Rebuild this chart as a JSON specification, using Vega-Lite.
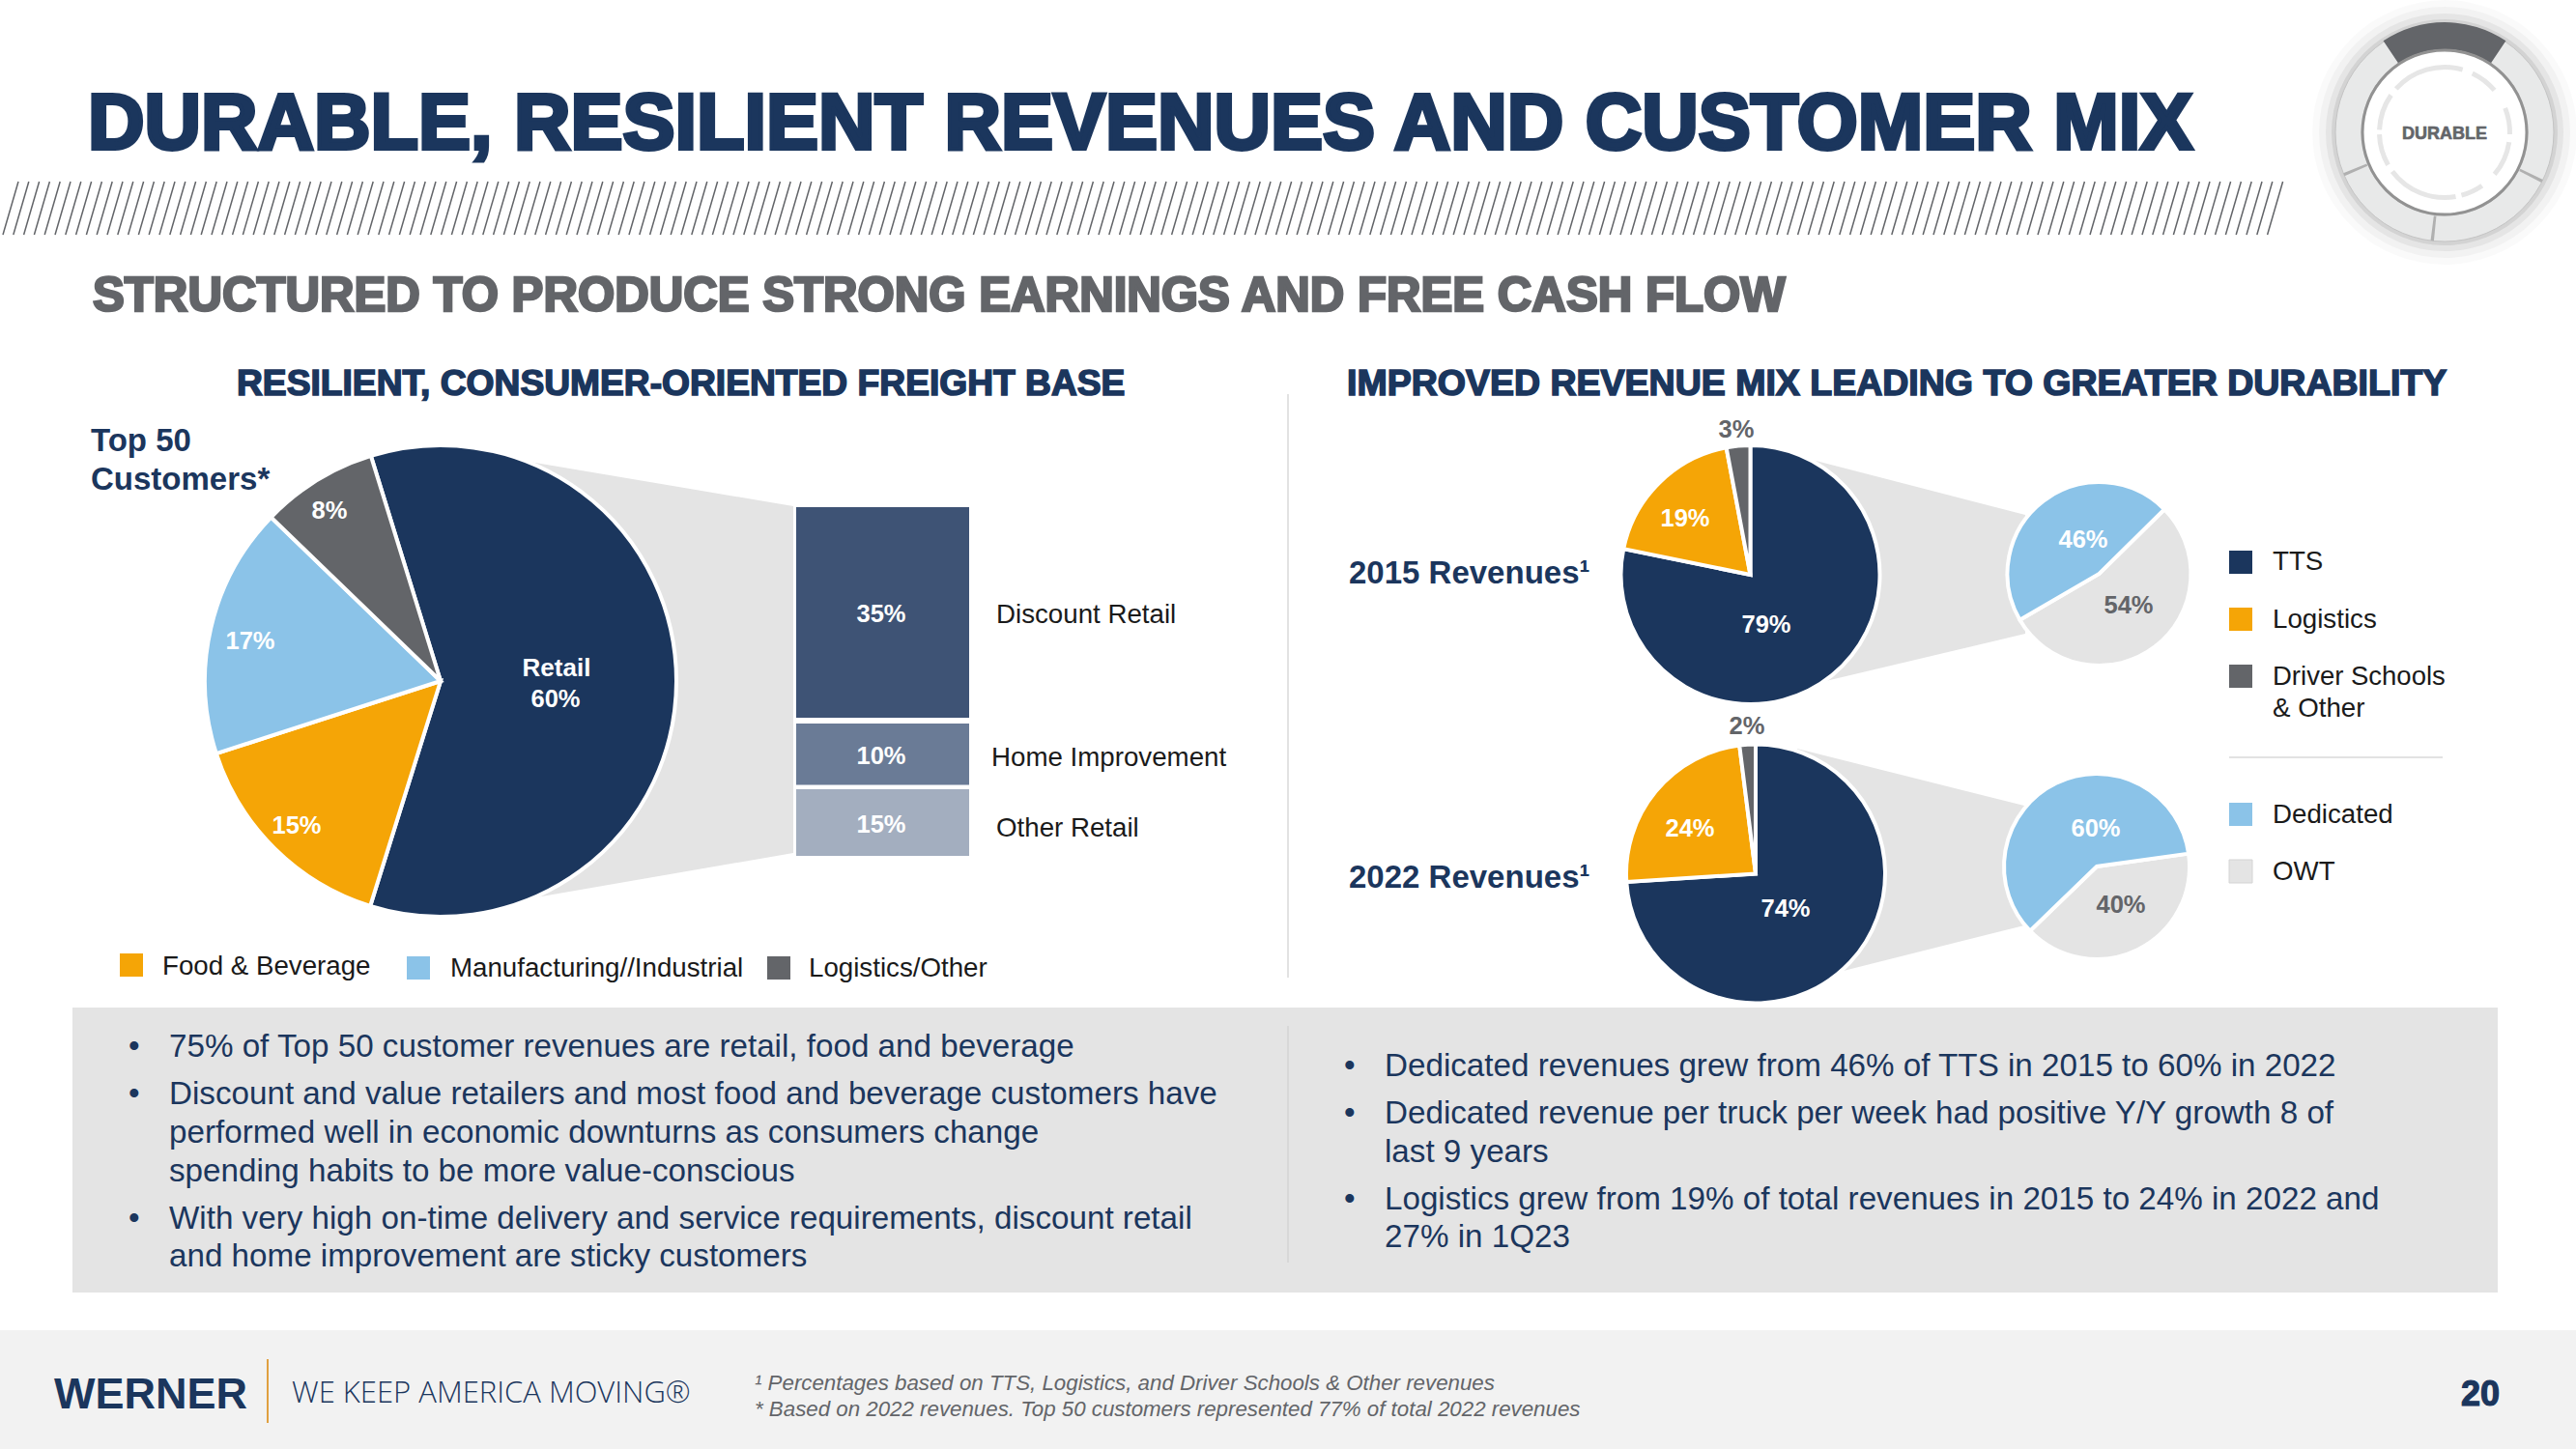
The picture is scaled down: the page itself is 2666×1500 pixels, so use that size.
{
"$schema":"https://vega.github.io/schema/vega-lite/v6.json",
"width":2666,"height":1500,"padding":0,"autosize":{"type":"none"},"background":"white",
"config":{"view":{"stroke":null},
"text":{"font":"Liberation Sans","baseline":"alphabetic","align":"left","color":"#1b365d"},
"style":{
"title":{"fontWeight":"bold","color":"#1b365d","stroke":"#1b365d","strokeWidth":4},
"sub":{"fontWeight":"bold","color":"#636569","stroke":"#636569","strokeWidth":2.5},
"sec":{"fontWeight":"bold","color":"#1b365d","stroke":"#1b365d","strokeWidth":1.6},
"pw":{"fontWeight":"bold","align":"center","color":"white"},
"pg":{"fontWeight":"bold","align":"center","color":"#636569"},
"lab":{"color":"#1a1a1a"},
"rev":{"fontWeight":"bold","color":"#1b365d"},
"body":{"color":"#1b365d"},
"foot":{"fontStyle":"italic","color":"#636569"}
}},
"datasets":{"one":[{"k":1}]},
"data":{"name":"one"},
"resolve":{"scale":{"theta":"independent"}},
"layer":[
{"mark":{"type":"rect","color":"#f2f2f2"},"encoding":{"x":{"value":0},"x2":{"value":2666},"y":{"value":1377},"y2":{"value":1500}}},
{"mark":{"type":"rect","color":"#e4e4e4"},"encoding":{"x":{"value":75},"x2":{"value":2585},"y":{"value":1043},"y2":{"value":1338}}},
{"mark":{"type":"rule","color":"#e2e2e2","strokeWidth":2},"encoding":{"x":{"value":1333},"y":{"value":408},"y2":{"value":1012}}},
{"mark":{"type":"rule","color":"#d8d8d8","strokeWidth":2},"encoding":{"x":{"value":1333},"y":{"value":1062},"y2":{"value":1307}}},
{"mark":{"type":"point","x":0,"y":0,"size":4,"filled":false,"opacity":1,"stroke":"#636569","strokeWidth":1.5,"shape":"M3 243l16-55m-5.2 55l16-55m-5.2 55l16-55m-5.2 55l16-55m-5.2 55l16-55m-5.2 55l16-55m-5.2 55l16-55m-5.2 55l16-55m-5.2 55l16-55m-5.2 55l16-55m-5.2 55l16-55m-5.2 55l16-55m-5.2 55l16-55m-5.2 55l16-55m-5.2 55l16-55m-5.2 55l16-55m-5.2 55l16-55m-5.2 55l16-55m-5.2 55l16-55m-5.2 55l16-55m-5.2 55l16-55m-5.2 55l16-55m-5.2 55l16-55m-5.2 55l16-55m-5.2 55l16-55m-5.2 55l16-55m-5.2 55l16-55m-5.2 55l16-55m-5.2 55l16-55m-5.2 55l16-55m-5.2 55l16-55m-5.2 55l16-55m-5.2 55l16-55m-5.2 55l16-55m-5.2 55l16-55m-5.2 55l16-55m-5.2 55l16-55m-5.2 55l16-55m-5.2 55l16-55m-5.2 55l16-55m-5.2 55l16-55m-5.2 55l16-55m-5.2 55l16-55m-5.2 55l16-55m-5.2 55l16-55m-5.2 55l16-55m-5.2 55l16-55m-5.2 55l16-55m-5.2 55l16-55m-5.2 55l16-55m-5.2 55l16-55m-5.2 55l16-55m-5.2 55l16-55m-5.2 55l16-55m-5.2 55l16-55m-5.2 55l16-55m-5.2 55l16-55m-5.2 55l16-55m-5.2 55l16-55m-5.2 55l16-55m-5.2 55l16-55m-5.2 55l16-55m-5.2 55l16-55m-5.2 55l16-55m-5.2 55l16-55m-5.2 55l16-55m-5.2 55l16-55m-5.2 55l16-55m-5.2 55l16-55m-5.2 55l16-55m-5.2 55l16-55m-5.2 55l16-55m-5.2 55l16-55m-5.2 55l16-55m-5.2 55l16-55m-5.2 55l16-55m-5.2 55l16-55m-5.2 55l16-55m-5.2 55l16-55m-5.2 55l16-55m-5.2 55l16-55m-5.2 55l16-55m-5.2 55l16-55m-5.2 55l16-55m-5.2 55l16-55m-5.2 55l16-55m-5.2 55l16-55m-5.2 55l16-55m-5.2 55l16-55m-5.2 55l16-55m-5.2 55l16-55m-5.2 55l16-55m-5.2 55l16-55m-5.2 55l16-55m-5.2 55l16-55m-5.2 55l16-55m-5.2 55l16-55m-5.2 55l16-55m-5.2 55l16-55m-5.2 55l16-55m-5.2 55l16-55m-5.2 55l16-55m-5.2 55l16-55m-5.2 55l16-55m-5.2 55l16-55m-5.2 55l16-55m-5.2 55l16-55m-5.2 55l16-55m-5.2 55l16-55m-5.2 55l16-55m-5.2 55l16-55m-5.2 55l16-55m-5.2 55l16-55m-5.2 55l16-55m-5.2 55l16-55m-5.2 55l16-55m-5.2 55l16-55m-5.2 55l16-55m-5.2 55l16-55m-5.2 55l16-55m-5.2 55l16-55m-5.2 55l16-55m-5.2 55l16-55m-5.2 55l16-55m-5.2 55l16-55m-5.2 55l16-55m-5.2 55l16-55m-5.2 55l16-55m-5.2 55l16-55m-5.2 55l16-55m-5.2 55l16-55m-5.2 55l16-55m-5.2 55l16-55m-5.2 55l16-55m-5.2 55l16-55m-5.2 55l16-55m-5.2 55l16-55m-5.2 55l16-55m-5.2 55l16-55m-5.2 55l16-55m-5.2 55l16-55m-5.2 55l16-55m-5.2 55l16-55m-5.2 55l16-55m-5.2 55l16-55m-5.2 55l16-55m-5.2 55l16-55m-5.2 55l16-55m-5.2 55l16-55m-5.2 55l16-55m-5.2 55l16-55m-5.2 55l16-55m-5.2 55l16-55m-5.2 55l16-55m-5.2 55l16-55m-5.2 55l16-55m-5.2 55l16-55m-5.2 55l16-55m-5.2 55l16-55m-5.2 55l16-55m-5.2 55l16-55m-5.2 55l16-55m-5.2 55l16-55m-5.2 55l16-55m-5.2 55l16-55m-5.2 55l16-55m-5.2 55l16-55m-5.2 55l16-55m-5.2 55l16-55m-5.2 55l16-55m-5.2 55l16-55m-5.2 55l16-55m-5.2 55l16-55m-5.2 55l16-55m-5.2 55l16-55m-5.2 55l16-55m-5.2 55l16-55m-5.2 55l16-55m-5.2 55l16-55m-5.2 55l16-55m-5.2 55l16-55m-5.2 55l16-55m-5.2 55l16-55m-5.2 55l16-55m-5.2 55l16-55m-5.2 55l16-55m-5.2 55l16-55m-5.2 55l16-55m-5.2 55l16-55m-5.2 55l16-55m-5.2 55l16-55m-5.2 55l16-55m-5.2 55l16-55m-5.2 55l16-55m-5.2 55l16-55m-5.2 55l16-55m-5.2 55l16-55m-5.2 55l16-55m-5.2 55l16-55m-5.2 55l16-55m-5.2 55l16-55m-5.2 55l16-55m-5.2 55l16-55m-5.2 55l16-55m-5.2 55l16-55m-5.2 55l16-55m-5.2 55l16-55m-5.2 55l16-55m-5.2 55l16-55m-5.2 55l16-55m-5.2 55l16-55m-5.2 55l16-55m-5.2 55l16-55m-5.2 55l16-55m-5.2 55l16-55m-5.2 55l16-55m-5.2 55l16-55m-5.2 55l16-55m-5.2 55l16-55m-5.2 55l16-55m-5.2 55l16-55m-5.2 55l16-55m-5.2 55l16-55m-5.2 55l16-55m-5.2 55l16-55m-5.2 55l16-55m-5.2 55l16-55m-5.2 55l16-55m-5.2 55l16-55m-5.2 55l16-55m-5.2 55l16-55m-5.2 55l16-55m-5.2 55l16-55m-5.2 55l16-55m-5.2 55l16-55m-5.2 55l16-55m-5.2 55l16-55m-5.2 55l16-55m-5.2 55l16-55m-5.2 55l16-55m-5.2 55l16-55m-5.2 55l16-55m-5.2 55l16-55m-5.2 55l16-55m-5.2 55l16-55m-5.2 55l16-55m-5.2 55l16-55m-5.2 55l16-55m-5.2 55l16-55m-5.2 55l16-55m-5.2 55l16-55m-5.2 55l16-55m-5.2 55l16-55m-5.2 55l16-55m-5.2 55l16-55m-5.2 55l16-55m-5.2 55l16-55m-5.2 55l16-55m-5.2 55l16-55m-5.2 55"},"encoding":{}},
{"mark":{"type":"point","x":0,"y":0,"size":4,"filled":true,"opacity":1,"color":"white","shape":"M2352 246L2368 185L2666 185L2666 246Z"},"encoding":{}},
{"mark":{"type":"point","x":0,"y":0,"size":4,"filled":true,"opacity":1,"color":"#e4e4e4","shape":"M500 470L821 524L821 883L520 935Z"},"encoding":{}},
{"mark":{"type":"point","x":0,"y":0,"size":4,"filled":true,"opacity":1,"color":"#e4e4e4","shape":"M1860 472L2096 533L2096 656L1860 712Z"},"encoding":{}},
{"mark":{"type":"point","x":0,"y":0,"size":4,"filled":true,"opacity":1,"color":"#e4e4e4","shape":"M1860 775L2095 834L2095 958L1880 1012Z"},"encoding":{}},
{"data":{"values":[{"c":"Retail","v":59.6,"o":1},{"c":"Food & Beverage","v":15.2,"o":2},{"c":"Manufacturing//Industrial","v":17.2,"o":3},{"c":"Logistics/Other","v":8,"o":4}]},
"mark":{"type":"arc","outerRadius":244,"stroke":"white","strokeWidth":4},
"encoding":{"x":{"value":456},"y":{"value":705},"theta":{"field":"v","type":"quantitative","stack":true,"scale":{"domain":[0,100],"range":[-0.3,5.983]}},"order":{"field":"o"},
"color":{"field":"c","type":"nominal","legend":null,"scale":{"domain":["Retail","Food & Beverage","Manufacturing//Industrial","Logistics/Other","TTS","Logistics","Driver Schools & Other","Dedicated","OWT"],"range":["#1b365d","#f5a506","#8bc3e8","#636569","#1b365d","#f5a506","#636569","#8bc3e8","#e4e4e4"]}}}},
{"data":{"values":[{"c":"TTS","v":79,"o":1},{"c":"Logistics","v":19,"o":2},{"c":"Driver Schools & Other","v":3,"o":3}]},
"mark":{"type":"arc","outerRadius":134,"stroke":"white","strokeWidth":4},
"encoding":{"x":{"value":1811.5},"y":{"value":595},"theta":{"field":"v","type":"quantitative","stack":true,"scale":{"domain":[0,101],"range":[0,6.2832]}},"order":{"field":"o"},"color":{"field":"c","type":"nominal","legend":null}}},
{"data":{"values":[{"c":"TTS","v":74,"o":1},{"c":"Logistics","v":24,"o":2},{"c":"Driver Schools & Other","v":2,"o":3}]},
"mark":{"type":"arc","outerRadius":134,"stroke":"white","strokeWidth":4},
"encoding":{"x":{"value":1817},"y":{"value":904.5},"theta":{"field":"v","type":"quantitative","stack":true,"scale":{"domain":[0,100],"range":[0,6.2832]}},"order":{"field":"o"},"color":{"field":"c","type":"nominal","legend":null}}},
{"data":{"values":[{"c":"OWT","v":54,"o":1},{"c":"Dedicated","v":46,"o":2}]},
"mark":{"type":"arc","outerRadius":95,"stroke":"white","strokeWidth":4},
"encoding":{"x":{"value":2172.5},"y":{"value":594},"theta":{"field":"v","type":"quantitative","stack":true,"scale":{"domain":[0,100],"range":[0.792,7.075]}},"order":{"field":"o"},"color":{"field":"c","type":"nominal","legend":null}}},
{"data":{"values":[{"c":"OWT","v":40,"o":1},{"c":"Dedicated","v":60,"o":2}]},
"mark":{"type":"arc","outerRadius":96,"stroke":"white","strokeWidth":4},
"encoding":{"x":{"value":2170},"y":{"value":897},"theta":{"field":"v","type":"quantitative","stack":true,"scale":{"domain":[0,100],"range":[1.431,7.714]}},"order":{"field":"o"},"color":{"field":"c","type":"nominal","legend":null}}},
{"data":{"values":[{"segment":"Discount Retail","share":35}]},"mark":{"type":"rect","color":"#3e5375"},"encoding":{"x":{"value":824},"x2":{"value":1003},"y":{"value":525},"y2":{"value":743}}},
{"data":{"values":[{"segment":"Home Improvement","share":10}]},"mark":{"type":"rect","color":"#6a7b96"},"encoding":{"x":{"value":824},"x2":{"value":1003},"y":{"value":749},"y2":{"value":812.5}}},
{"data":{"values":[{"segment":"Other Retail","share":15}]},"mark":{"type":"rect","color":"#a3aebf"},"encoding":{"x":{"value":824},"x2":{"value":1003},"y":{"value":817},"y2":{"value":886}}},
{"mark":{"type":"rect","color":"#f5a506"},"encoding":{"x":{"value":124},"x2":{"value":148},"y":{"value":987},"y2":{"value":1011}}},
{"mark":{"type":"rect","color":"#8bc3e8"},"encoding":{"x":{"value":421},"x2":{"value":445},"y":{"value":990},"y2":{"value":1014}}},
{"mark":{"type":"rect","color":"#636569"},"encoding":{"x":{"value":794},"x2":{"value":818},"y":{"value":990},"y2":{"value":1014}}},
{"mark":{"type":"rect","color":"#1b365d"},"encoding":{"x":{"value":2307},"x2":{"value":2331},"y":{"value":570},"y2":{"value":594}}},
{"mark":{"type":"rect","color":"#f5a506"},"encoding":{"x":{"value":2307},"x2":{"value":2331},"y":{"value":629},"y2":{"value":653}}},
{"mark":{"type":"rect","color":"#636569"},"encoding":{"x":{"value":2307},"x2":{"value":2331},"y":{"value":688},"y2":{"value":712}}},
{"mark":{"type":"rect","color":"#8bc3e8"},"encoding":{"x":{"value":2307},"x2":{"value":2331},"y":{"value":831},"y2":{"value":855}}},
{"mark":{"type":"rect","color":"#e4e4e4","stroke":"#d4d4d4","strokeWidth":1},"encoding":{"x":{"value":2307},"x2":{"value":2331},"y":{"value":890},"y2":{"value":914}}},
{"mark":{"type":"rule","color":"#d9d9d9","strokeWidth":1.5},"encoding":{"x":{"value":2307},"x2":{"value":2528},"y":{"value":784}}},
{"mark":{"type":"rule","color":"#e0a040","strokeWidth":2},"encoding":{"x":{"value":277},"y":{"value":1407},"y2":{"value":1473}}},
{"mark":{"type":"arc","x":2530,"y":137,"innerRadius":0,"outerRadius":137,"theta":0,"theta2":6.2832,"color":"black","opacity":0.02},"encoding":{}},
{"mark":{"type":"arc","x":2530,"y":137,"innerRadius":0,"outerRadius":130,"theta":0,"theta2":6.2832,"color":"black","opacity":0.03},"encoding":{}},
{"mark":{"type":"arc","x":2530,"y":137,"innerRadius":0,"outerRadius":123,"theta":0,"theta2":6.2832,"color":"black","opacity":0.05},"encoding":{}},
{"mark":{"type":"arc","x":2530,"y":137,"innerRadius":0,"outerRadius":117,"theta":0,"theta2":6.2832,"color":"black","opacity":0.08},"encoding":{}},
{"mark":{"type":"arc","x":2530,"y":137,"innerRadius":86,"outerRadius":113,"theta":0,"theta2":6.2832,"color":"#e8e9e9","stroke":"#c4c4c4","strokeWidth":1},"encoding":{}},
{"mark":{"type":"arc","x":2530,"y":137,"innerRadius":86,"outerRadius":114,"theta":-0.59,"theta2":0.59,"color":"#636569"},"encoding":{}},
{"mark":{"type":"arc","x":2530,"y":137,"innerRadius":0,"outerRadius":85,"theta":0,"theta2":6.2832,"color":"white","stroke":"#929292","strokeWidth":3},"encoding":{}},
{"data":{"values":[{"a":-0.84,"b":0.28},{"a":0.44,"b":0.87},{"a":1.19,"b":1.6},{"a":1.72,"b":2.27},{"a":2.53,"b":2.88},{"a":2.97,"b":4.07},{"a":4.19,"b":4.68},{"a":4.75,"b":5.32}]},"mark":{"type":"arc","x":2530,"y":137,"innerRadius":65,"outerRadius":70,"color":"#e6e6e6"},"encoding":{"theta":{"field":"a","type":"quantitative","scale":null},"theta2":{"field":"b"}}},
{"data":{"values":[{"a":2.02,"b":2.05},{"a":3.24,"b":3.27},{"a":4.3,"b":4.33}]},"mark":{"type":"arc","x":2530,"y":137,"innerRadius":87,"outerRadius":113,"color":"#b0b0b0"},"encoding":{"theta":{"field":"a","type":"quantitative","scale":null},"theta2":{"field":"b"}}},
{"data":{"values":[{"t":"DURABLE"}]},"mark":{"type":"text","x":2530,"y":144,"align":"center","fontWeight":"bold","fontSize":18,"color":"#636569","stroke":"#636569","strokeWidth":0.6},"encoding":{"text":{"field":"t"}}},
{"data":{"values":[{"t":"DURABLE, RESILIENT REVENUES AND CUSTOMER MIX"}]},"mark":{"type":"text","style":"title","fontSize":81,"x":91,"y":154},"encoding":{"text":{"field":"t"}}},
{"data":{"values":[{"t":"STRUCTURED TO PRODUCE STRONG EARNINGS AND FREE CASH FLOW"}]},"mark":{"type":"text","style":"sub","fontSize":49.2,"x":96,"y":322},"encoding":{"text":{"field":"t"}}},
{"data":{"values":[{"t":"RESILIENT, CONSUMER-ORIENTED FREIGHT BASE"}]},"mark":{"type":"text","style":"sec","fontSize":37.2,"x":245,"y":409},"encoding":{"text":{"field":"t"}}},
{"data":{"values":[{"t":"IMPROVED REVENUE MIX LEADING TO GREATER DURABILITY"}]},"mark":{"type":"text","style":"sec","fontSize":37.5,"x":1394,"y":409},"encoding":{"text":{"field":"t"}}},
{"data":{"values":[{"t":"Top 50"}]},"mark":{"type":"text","style":"rev","fontSize":33,"x":94,"y":467},"encoding":{"text":{"field":"t"}}},
{"data":{"values":[{"t":"Customers*"}]},"mark":{"type":"text","style":"rev","fontSize":33,"x":94,"y":507},"encoding":{"text":{"field":"t"}}},
{"data":{"values":[{"t":"8%"}]},"mark":{"type":"text","style":"pw","fontSize":25.5,"x":341,"y":537},"encoding":{"text":{"field":"t"}}},
{"data":{"values":[{"t":"17%"}]},"mark":{"type":"text","style":"pw","fontSize":25.5,"x":259,"y":672},"encoding":{"text":{"field":"t"}}},
{"data":{"values":[{"t":"15%"}]},"mark":{"type":"text","style":"pw","fontSize":25.5,"x":307,"y":863},"encoding":{"text":{"field":"t"}}},
{"data":{"values":[{"t":"Retail"}]},"mark":{"type":"text","style":"pw","fontSize":26,"x":576,"y":700},"encoding":{"text":{"field":"t"}}},
{"data":{"values":[{"t":"60%"}]},"mark":{"type":"text","style":"pw","fontSize":25.5,"x":575,"y":732},"encoding":{"text":{"field":"t"}}},
{"data":{"values":[{"t":"35%"}]},"mark":{"type":"text","style":"pw","fontSize":25.5,"x":912,"y":644},"encoding":{"text":{"field":"t"}}},
{"data":{"values":[{"t":"10%"}]},"mark":{"type":"text","style":"pw","fontSize":25.5,"x":912,"y":791},"encoding":{"text":{"field":"t"}}},
{"data":{"values":[{"t":"15%"}]},"mark":{"type":"text","style":"pw","fontSize":25.5,"x":912,"y":862},"encoding":{"text":{"field":"t"}}},
{"data":{"values":[{"t":"Discount Retail"}]},"mark":{"type":"text","style":"lab","fontSize":27.7,"x":1031,"y":645},"encoding":{"text":{"field":"t"}}},
{"data":{"values":[{"t":"Home Improvement"}]},"mark":{"type":"text","style":"lab","fontSize":27.7,"x":1026,"y":793},"encoding":{"text":{"field":"t"}}},
{"data":{"values":[{"t":"Other Retail"}]},"mark":{"type":"text","style":"lab","fontSize":27.7,"x":1031,"y":866},"encoding":{"text":{"field":"t"}}},
{"data":{"values":[{"t":"Food & Beverage"}]},"mark":{"type":"text","style":"lab","fontSize":27.7,"x":168,"y":1009},"encoding":{"text":{"field":"t"}}},
{"data":{"values":[{"t":"Manufacturing//Industrial"}]},"mark":{"type":"text","style":"lab","fontSize":27.7,"x":466,"y":1011},"encoding":{"text":{"field":"t"}}},
{"data":{"values":[{"t":"Logistics/Other"}]},"mark":{"type":"text","style":"lab","fontSize":27.7,"x":837,"y":1011},"encoding":{"text":{"field":"t"}}},
{"data":{"values":[{"t":"2015 Revenues¹"}]},"mark":{"type":"text","style":"rev","fontSize":33,"x":1396,"y":604},"encoding":{"text":{"field":"t"}}},
{"data":{"values":[{"t":"2022 Revenues¹"}]},"mark":{"type":"text","style":"rev","fontSize":33,"x":1396,"y":919},"encoding":{"text":{"field":"t"}}},
{"data":{"values":[{"t":"3%"}]},"mark":{"type":"text","style":"pg","fontSize":25.5,"x":1797,"y":453},"encoding":{"text":{"field":"t"}}},
{"data":{"values":[{"t":"19%"}]},"mark":{"type":"text","style":"pw","fontSize":25.5,"x":1744,"y":545},"encoding":{"text":{"field":"t"}}},
{"data":{"values":[{"t":"79%"}]},"mark":{"type":"text","style":"pw","fontSize":25.5,"x":1828,"y":655},"encoding":{"text":{"field":"t"}}},
{"data":{"values":[{"t":"46%"}]},"mark":{"type":"text","style":"pw","fontSize":25.5,"x":2156,"y":567},"encoding":{"text":{"field":"t"}}},
{"data":{"values":[{"t":"54%"}]},"mark":{"type":"text","style":"pg","fontSize":25.5,"x":2203,"y":635},"encoding":{"text":{"field":"t"}}},
{"data":{"values":[{"t":"2%"}]},"mark":{"type":"text","style":"pg","fontSize":25.5,"x":1808,"y":760},"encoding":{"text":{"field":"t"}}},
{"data":{"values":[{"t":"24%"}]},"mark":{"type":"text","style":"pw","fontSize":25.5,"x":1749,"y":866},"encoding":{"text":{"field":"t"}}},
{"data":{"values":[{"t":"74%"}]},"mark":{"type":"text","style":"pw","fontSize":25.5,"x":1848,"y":949},"encoding":{"text":{"field":"t"}}},
{"data":{"values":[{"t":"60%"}]},"mark":{"type":"text","style":"pw","fontSize":25.5,"x":2169,"y":866},"encoding":{"text":{"field":"t"}}},
{"data":{"values":[{"t":"40%"}]},"mark":{"type":"text","style":"pg","fontSize":25.5,"x":2195,"y":945},"encoding":{"text":{"field":"t"}}},
{"data":{"values":[{"t":"TTS"}]},"mark":{"type":"text","style":"lab","fontSize":27.7,"x":2352,"y":590},"encoding":{"text":{"field":"t"}}},
{"data":{"values":[{"t":"Logistics"}]},"mark":{"type":"text","style":"lab","fontSize":27.7,"x":2352,"y":650},"encoding":{"text":{"field":"t"}}},
{"data":{"values":[{"t":"Driver Schools"}]},"mark":{"type":"text","style":"lab","fontSize":27.5,"x":2352,"y":709},"encoding":{"text":{"field":"t"}}},
{"data":{"values":[{"t":"& Other"}]},"mark":{"type":"text","style":"lab","fontSize":27.7,"x":2352,"y":742},"encoding":{"text":{"field":"t"}}},
{"data":{"values":[{"t":"Dedicated"}]},"mark":{"type":"text","style":"lab","fontSize":27.7,"x":2352,"y":852},"encoding":{"text":{"field":"t"}}},
{"data":{"values":[{"t":"OWT"}]},"mark":{"type":"text","style":"lab","fontSize":27.7,"x":2352,"y":911},"encoding":{"text":{"field":"t"}}},
{"data":{"values":[{"t":"•"}]},"mark":{"type":"text","style":"body","fontSize":33,"x":133,"y":1094},"encoding":{"text":{"field":"t"}}},
{"data":{"values":[{"t":"75% of Top 50 customer revenues are retail, food and beverage"}]},"mark":{"type":"text","style":"body","fontSize":33.2,"x":175,"y":1094},"encoding":{"text":{"field":"t"}}},
{"data":{"values":[{"t":"•"}]},"mark":{"type":"text","style":"body","fontSize":33,"x":133,"y":1143},"encoding":{"text":{"field":"t"}}},
{"data":{"values":[{"t":"Discount and value retailers and most food and beverage customers have"}]},"mark":{"type":"text","style":"body","fontSize":33.2,"x":175,"y":1143},"encoding":{"text":{"field":"t"}}},
{"data":{"values":[{"t":"performed well in economic downturns as consumers change"}]},"mark":{"type":"text","style":"body","fontSize":33.2,"x":175,"y":1183},"encoding":{"text":{"field":"t"}}},
{"data":{"values":[{"t":"spending habits to be more value-conscious"}]},"mark":{"type":"text","style":"body","fontSize":33.2,"x":175,"y":1223},"encoding":{"text":{"field":"t"}}},
{"data":{"values":[{"t":"•"}]},"mark":{"type":"text","style":"body","fontSize":33,"x":133,"y":1272},"encoding":{"text":{"field":"t"}}},
{"data":{"values":[{"t":"With very high on-time delivery and service requirements, discount retail"}]},"mark":{"type":"text","style":"body","fontSize":33.2,"x":175,"y":1272},"encoding":{"text":{"field":"t"}}},
{"data":{"values":[{"t":"and home improvement are sticky customers"}]},"mark":{"type":"text","style":"body","fontSize":33.2,"x":175,"y":1311},"encoding":{"text":{"field":"t"}}},
{"data":{"values":[{"t":"•"}]},"mark":{"type":"text","style":"body","fontSize":33,"x":1391,"y":1114},"encoding":{"text":{"field":"t"}}},
{"data":{"values":[{"t":"Dedicated revenues grew from 46% of TTS in 2015 to 60% in 2022"}]},"mark":{"type":"text","style":"body","fontSize":33.2,"x":1433,"y":1114},"encoding":{"text":{"field":"t"}}},
{"data":{"values":[{"t":"•"}]},"mark":{"type":"text","style":"body","fontSize":33,"x":1391,"y":1163},"encoding":{"text":{"field":"t"}}},
{"data":{"values":[{"t":"Dedicated revenue per truck per week had positive Y/Y growth 8 of"}]},"mark":{"type":"text","style":"body","fontSize":33.2,"x":1433,"y":1163},"encoding":{"text":{"field":"t"}}},
{"data":{"values":[{"t":"last 9 years"}]},"mark":{"type":"text","style":"body","fontSize":33.2,"x":1433,"y":1203},"encoding":{"text":{"field":"t"}}},
{"data":{"values":[{"t":"•"}]},"mark":{"type":"text","style":"body","fontSize":33,"x":1391,"y":1252},"encoding":{"text":{"field":"t"}}},
{"data":{"values":[{"t":"Logistics grew from 19% of total revenues in 2015 to 24% in 2022 and"}]},"mark":{"type":"text","style":"body","fontSize":33.2,"x":1433,"y":1252},"encoding":{"text":{"field":"t"}}},
{"data":{"values":[{"t":"27% in 1Q23"}]},"mark":{"type":"text","style":"body","fontSize":33.2,"x":1433,"y":1291},"encoding":{"text":{"field":"t"}}},
{"data":{"values":[{"t":"WERNER"}]},"mark":{"type":"text","x":56,"y":1458,"fontWeight":"bold","fontSize":45,"color":"#1b365d"},"encoding":{"text":{"field":"t"}}},
{"data":{"values":[{"t":"WE KEEP AMERICA MOVING®"}]},"mark":{"type":"text","x":302,"y":1452,"font":"Open Sans","fontWeight":300,"fontSize":31,"color":"#1b365d"},"encoding":{"text":{"field":"t"}}},
{"data":{"values":[{"t":"¹ Percentages based on TTS, Logistics, and Driver Schools & Other revenues"}]},"mark":{"type":"text","style":"foot","fontSize":22.3,"x":781,"y":1439},"encoding":{"text":{"field":"t"}}},
{"data":{"values":[{"t":"* Based on 2022 revenues. Top 50 customers represented 77% of total 2022 revenues"}]},"mark":{"type":"text","style":"foot","fontSize":22.3,"x":781,"y":1466},"encoding":{"text":{"field":"t"}}},
{"data":{"values":[{"t":"20"}]},"mark":{"type":"text","x":2547,"y":1455,"fontWeight":"bold","fontSize":36,"color":"#1b365d","stroke":"#1b365d","strokeWidth":1.2},"encoding":{"text":{"field":"t"}}}
]
}
